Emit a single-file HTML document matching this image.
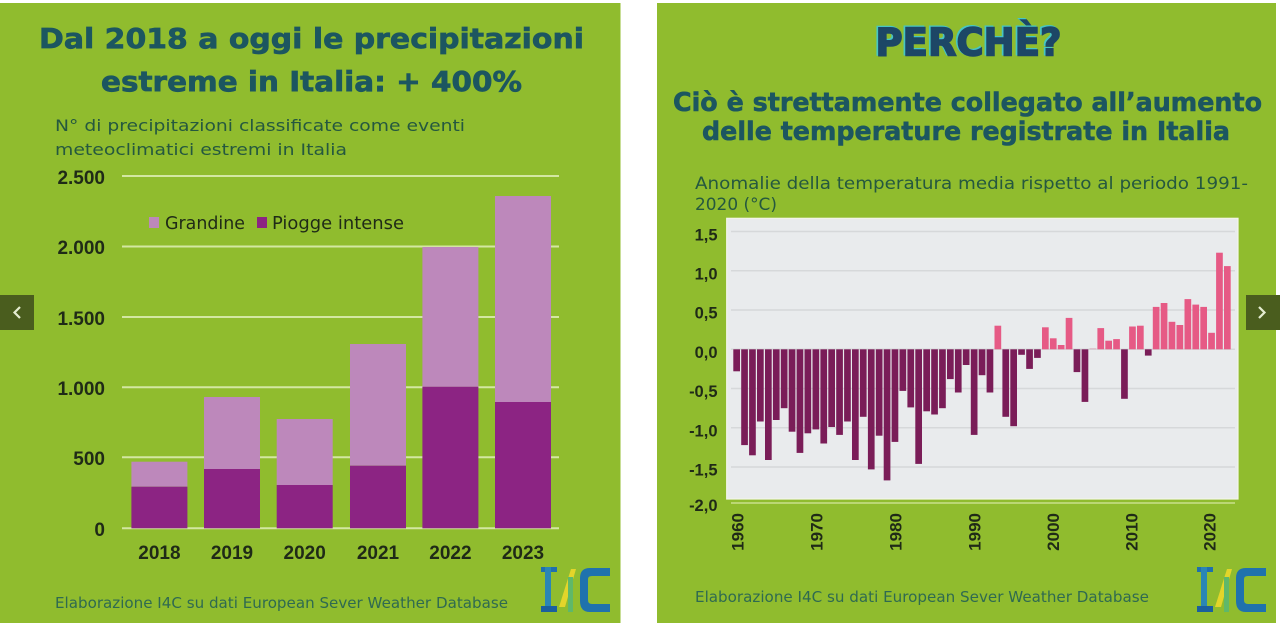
<!DOCTYPE html>
<html>
<head>
<meta charset="utf-8">
<style>
  html,body{margin:0;padding:0;background:#ffffff;}
  body{width:1280px;height:633px;overflow:hidden;}
  svg{display:block;}
</style>
</head>
<body>
<svg width="1280" height="633" viewBox="0 0 1280 633" xmlns="http://www.w3.org/2000/svg">
  <rect x="0" y="0" width="1280" height="633" fill="#ffffff"/>

  <!-- ================= LEFT PANEL ================= -->
  <rect x="0" y="3" width="620.5" height="620" fill="#90bc2e"/>

  <g font-family="'DejaVu Sans','Liberation Sans',sans-serif" fill="#1c5660" stroke="#1c5660" stroke-width="0.7" font-weight="bold">
    <text x="39" y="48" font-size="28" textLength="545" lengthAdjust="spacingAndGlyphs">Dal 2018 a oggi le precipitazioni</text>
    <text x="101" y="91" font-size="28" textLength="421" lengthAdjust="spacingAndGlyphs">estreme in Italia: + 400%</text>
  </g>
  <g font-family="'DejaVu Sans','Liberation Sans',sans-serif" fill="#25583f" font-size="16">
    <text x="55" y="131" textLength="410" lengthAdjust="spacingAndGlyphs">N° di precipitazioni classificate come eventi</text>
    <text x="55" y="155" textLength="292" lengthAdjust="spacingAndGlyphs">meteoclimatici estremi in Italia</text>
  </g>

  <!-- gridlines -->
  <g stroke="#d3e7a2" stroke-width="2">
    <line x1="122" y1="176" x2="559" y2="176"/>
    <line x1="122" y1="246.5" x2="559" y2="246.5"/>
    <line x1="122" y1="317" x2="559" y2="317"/>
    <line x1="122" y1="387.3" x2="559" y2="387.3"/>
    <line x1="122" y1="457.3" x2="559" y2="457.3"/>
    <line x1="122" y1="528.3" x2="559" y2="528.3"/>
  </g>

  <!-- y labels -->
  <g font-family="'Liberation Sans',sans-serif" font-weight="bold" font-size="19" fill="#1f2a17" text-anchor="end">
    <text x="105" y="184">2.500</text>
    <text x="105" y="254">2.000</text>
    <text x="105" y="325">1.500</text>
    <text x="105" y="395">1.000</text>
    <text x="105" y="465">500</text>
    <text x="105" y="536">0</text>
  </g>

  <!-- stacked bars -->
  <g>
    <rect x="131.4" y="461.7" width="56" height="25" fill="#bd88bb"/>
    <rect x="131.4" y="486.7" width="56" height="41.6" fill="#8c2483"/>
    <rect x="204" y="397" width="56" height="72" fill="#bd88bb"/>
    <rect x="204" y="469" width="56" height="59.3" fill="#8c2483"/>
    <rect x="276.7" y="419" width="56" height="66" fill="#bd88bb"/>
    <rect x="276.7" y="485" width="56" height="43.3" fill="#8c2483"/>
    <rect x="350" y="344" width="56" height="121.7" fill="#bd88bb"/>
    <rect x="350" y="465.7" width="56" height="62.6" fill="#8c2483"/>
    <rect x="422.4" y="247" width="56" height="139.7" fill="#bd88bb"/>
    <rect x="422.4" y="386.7" width="56" height="141.6" fill="#8c2483"/>
    <rect x="495" y="196" width="56" height="206" fill="#bd88bb"/>
    <rect x="495" y="402" width="56" height="126.3" fill="#8c2483"/>
  </g>

  <!-- x labels -->
  <g font-family="'Liberation Sans',sans-serif" font-weight="bold" font-size="19" fill="#1f2a17" text-anchor="middle">
    <text x="159.4" y="559">2018</text>
    <text x="232" y="559">2019</text>
    <text x="304.7" y="559">2020</text>
    <text x="378" y="559">2021</text>
    <text x="450.4" y="559">2022</text>
    <text x="523" y="559">2023</text>
  </g>

  <!-- legend -->
  <rect x="149" y="217" width="10" height="11" fill="#bd88bb"/>
  <text x="165" y="229" font-family="'DejaVu Sans','Liberation Sans',sans-serif" font-size="18" fill="#1f2a17" textLength="80" lengthAdjust="spacingAndGlyphs">Grandine</text>
  <rect x="257" y="217" width="10" height="11" fill="#8c2483"/>
  <text x="272" y="229" font-family="'DejaVu Sans','Liberation Sans',sans-serif" font-size="18" fill="#1f2a17" textLength="132" lengthAdjust="spacingAndGlyphs">Piogge intense</text>

  <!-- footer -->
  <text x="55" y="608" font-family="'DejaVu Sans','Liberation Sans',sans-serif" font-size="15" fill="#2f6a50" textLength="453" lengthAdjust="spacingAndGlyphs">Elaborazione I4C su dati European Sever Weather Database</text>

  <!-- logo left -->
  <g transform="translate(540,567)">
    <rect x="1" y="0" width="16" height="5" fill="#1f6fae"/>
    <rect x="5" y="0" width="6" height="45" fill="#2a86b5"/>
    <rect x="1" y="39" width="16" height="6" fill="#1a5f9e"/>
    <polygon points="19,40 31,2 36,2 25,40" fill="#e3d52a"/>
    <rect x="28" y="10" width="5" height="35" fill="#5fb86a"/>
    <path d="M70,1 L50,1 Q40,1 40,11 L40,34 Q40,45 50,45 L70,45 L70,37 L52,37 Q48,37 48,33 L48,12 Q48,9 52,9 L70,9 Z" fill="#1f72ad"/>
  </g>

  <!-- left nav -->
  <rect x="0" y="295" width="34" height="35" fill="#4a5d1e"/>
  <polyline points="20,307 14.5,312.5 20,318" fill="none" stroke="#e4ecd0" stroke-width="2.2"/>

  <!-- ================= RIGHT PANEL ================= -->
  <rect x="657" y="3" width="619" height="620" fill="#90bc2e"/>

  <g font-family="'DejaVu Sans','Liberation Sans',sans-serif" font-weight="bold" font-size="38">
    <text x="874" y="54.5" fill="#46c6c4" stroke="#46c6c4" stroke-width="2" textLength="186" lengthAdjust="spacingAndGlyphs">PERCHÈ?</text>
    <text x="875.5" y="55.7" fill="#1d4766" stroke="#1d4766" stroke-width="1.6" textLength="186" lengthAdjust="spacingAndGlyphs">PERCHÈ?</text>
  </g>

  <g font-family="'DejaVu Sans','Liberation Sans',sans-serif" fill="#1c5660" stroke="#1c5660" stroke-width="0.6" font-weight="bold" font-size="26">
    <text x="673" y="111" textLength="589" lengthAdjust="spacingAndGlyphs">Ciò è strettamente collegato all’aumento</text>
    <text x="702" y="140" textLength="528" lengthAdjust="spacingAndGlyphs">delle temperature registrate in Italia</text>
  </g>
  <g font-family="'DejaVu Sans','Liberation Sans',sans-serif" fill="#25583f" font-size="16.5">
    <text x="695" y="189" textLength="553" lengthAdjust="spacingAndGlyphs">Anomalie della temperatura media rispetto al periodo 1991-</text>
    <text x="695" y="210" textLength="82" lengthAdjust="spacingAndGlyphs">2020 (°C)</text>
  </g>

  <!-- plot box -->
  <rect x="726.7" y="218.3" width="511.3" height="280.7" fill="#e9ebed" stroke="#f3f6ea" stroke-width="1.2"/>
  <g stroke="#d6d8da" stroke-width="1.5">
    <line x1="731" y1="231.5" x2="1235" y2="231.5"/>
    <line x1="731" y1="270.8" x2="1235" y2="270.8"/>
    <line x1="731" y1="310" x2="1235" y2="310"/>
    <line x1="731" y1="349.3" x2="1235" y2="349.3"/>
    <line x1="731" y1="388.5" x2="1235" y2="388.5"/>
    <line x1="731" y1="427.8" x2="1235" y2="427.8"/>
    <line x1="731" y1="467" x2="1235" y2="467"/>
  </g>
  <line x1="731" y1="503" x2="1235" y2="503" stroke="#c9e08c" stroke-width="1.5"/>

  <!-- y labels right -->
  <g font-family="'Liberation Sans',sans-serif" font-weight="bold" font-size="16.5" fill="#1f2a17" text-anchor="end">
    <text x="717.5" y="240.5">1,5</text>
    <text x="717.5" y="279.5">1,0</text>
    <text x="717.5" y="318.5">0,5</text>
    <text x="717.5" y="358">0,0</text>
    <text x="717.5" y="397">-0,5</text>
    <text x="717.5" y="436.5">-1,0</text>
    <text x="717.5" y="475.5">-1,5</text>
    <text x="717.5" y="511">-2,0</text>
  </g>

  <!-- anomaly bars -->
  <g fill="#7a1d58">
    <rect x="733.3" y="349.3" width="6.7" height="22.0"/>
    <rect x="741.2" y="349.3" width="6.7" height="95.8"/>
    <rect x="749.1" y="349.3" width="6.7" height="106.0"/>
    <rect x="757.0" y="349.3" width="6.7" height="72.2"/>
    <rect x="765.0" y="349.3" width="6.7" height="110.7"/>
    <rect x="772.9" y="349.3" width="6.7" height="70.7"/>
    <rect x="780.8" y="349.3" width="6.7" height="58.9"/>
    <rect x="788.7" y="349.3" width="6.7" height="82.4"/>
    <rect x="796.6" y="349.3" width="6.7" height="103.6"/>
    <rect x="804.5" y="349.3" width="6.7" height="84.0"/>
    <rect x="812.5" y="349.3" width="6.7" height="80.1"/>
    <rect x="820.4" y="349.3" width="6.7" height="94.2"/>
    <rect x="828.3" y="349.3" width="6.7" height="77.7"/>
    <rect x="836.2" y="349.3" width="6.7" height="85.6"/>
    <rect x="844.1" y="349.3" width="6.7" height="72.2"/>
    <rect x="852.0" y="349.3" width="6.7" height="110.7"/>
    <rect x="859.9" y="349.3" width="6.7" height="67.5"/>
    <rect x="867.9" y="349.3" width="6.7" height="120.1"/>
    <rect x="875.8" y="349.3" width="6.7" height="86.4"/>
    <rect x="883.7" y="349.3" width="6.7" height="131.1"/>
    <rect x="891.6" y="349.3" width="6.7" height="92.6"/>
    <rect x="899.5" y="349.3" width="6.7" height="41.6"/>
    <rect x="907.4" y="349.3" width="6.7" height="58.1"/>
    <rect x="915.3" y="349.3" width="6.7" height="114.6"/>
    <rect x="923.3" y="349.3" width="6.7" height="62.0"/>
    <rect x="931.2" y="349.3" width="6.7" height="65.2"/>
    <rect x="939.1" y="349.3" width="6.7" height="58.9"/>
    <rect x="947.0" y="349.3" width="6.7" height="29.8"/>
    <rect x="954.9" y="349.3" width="6.7" height="43.2"/>
    <rect x="962.8" y="349.3" width="6.7" height="15.7"/>
    <rect x="970.8" y="349.3" width="6.7" height="85.6"/>
    <rect x="978.7" y="349.3" width="6.7" height="25.9"/>
    <rect x="986.6" y="349.3" width="6.7" height="43.2"/>
    <rect x="1002.4" y="349.3" width="6.7" height="67.5"/>
    <rect x="1010.3" y="349.3" width="6.7" height="76.9"/>
    <rect x="1018.2" y="349.3" width="6.7" height="5.5"/>
    <rect x="1026.2" y="349.3" width="6.7" height="19.6"/>
    <rect x="1034.1" y="349.3" width="6.7" height="8.6"/>
    <rect x="1073.6" y="349.3" width="6.7" height="22.8"/>
    <rect x="1081.6" y="349.3" width="6.7" height="52.6"/>
    <rect x="1121.1" y="349.3" width="6.7" height="49.5"/>
    <rect x="1144.9" y="349.3" width="6.7" height="6.3"/>
  </g>
  <g fill="#e65a85">
    <rect x="994.5" y="325.7" width="6.7" height="23.6"/>
    <rect x="1042.0" y="327.3" width="6.7" height="22.0"/>
    <rect x="1049.9" y="338.3" width="6.7" height="11.0"/>
    <rect x="1057.8" y="345.0" width="6.7" height="4.3"/>
    <rect x="1065.7" y="317.9" width="6.7" height="31.4"/>
    <rect x="1089.5" y="348.3" width="6.7" height="1.0" fill="#d8b0bf"/>
    <rect x="1097.4" y="328.1" width="6.7" height="21.2"/>
    <rect x="1105.3" y="340.7" width="6.7" height="8.6"/>
    <rect x="1113.2" y="339.1" width="6.7" height="10.2"/>
    <rect x="1129.1" y="326.5" width="6.7" height="22.8"/>
    <rect x="1137.0" y="325.7" width="6.7" height="23.6"/>
    <rect x="1152.8" y="306.9" width="6.7" height="42.4"/>
    <rect x="1160.7" y="303.0" width="6.7" height="46.3"/>
    <rect x="1168.6" y="321.8" width="6.7" height="27.5"/>
    <rect x="1176.5" y="325.0" width="6.7" height="24.3"/>
    <rect x="1184.5" y="299.1" width="6.7" height="50.2"/>
    <rect x="1192.4" y="304.6" width="6.7" height="44.7"/>
    <rect x="1200.3" y="306.9" width="6.7" height="42.4"/>
    <rect x="1208.2" y="332.8" width="6.7" height="16.5"/>
    <rect x="1216.1" y="252.7" width="6.7" height="96.6"/>
    <rect x="1224.0" y="266.1" width="6.7" height="83.2"/>
  </g>

  <!-- rotated x labels -->
  <g font-family="'Liberation Sans',sans-serif" font-weight="bold" font-size="17" fill="#1f2a17" text-anchor="end" dominant-baseline="central">
    <text transform="translate(738,513) rotate(-90)">1960</text>
    <text transform="translate(817,513) rotate(-90)">1970</text>
    <text transform="translate(896,513) rotate(-90)">1980</text>
    <text transform="translate(975,513) rotate(-90)">1990</text>
    <text transform="translate(1053.5,513) rotate(-90)">2000</text>
    <text transform="translate(1132,513) rotate(-90)">2010</text>
    <text transform="translate(1210,513) rotate(-90)">2020</text>
  </g>

  <!-- footer right -->
  <text x="695" y="602" font-family="'DejaVu Sans','Liberation Sans',sans-serif" font-size="15" fill="#2f6a50" textLength="454" lengthAdjust="spacingAndGlyphs">Elaborazione I4C su dati European Sever Weather Database</text>

  <!-- logo right -->
  <g transform="translate(1196,567)">
    <rect x="1" y="0" width="16" height="5" fill="#1f6fae"/>
    <rect x="5" y="0" width="6" height="45" fill="#2a86b5"/>
    <rect x="1" y="39" width="16" height="6" fill="#1a5f9e"/>
    <polygon points="19,40 31,2 36,2 25,40" fill="#e3d52a"/>
    <rect x="28" y="10" width="5" height="35" fill="#5fb86a"/>
    <path d="M70,1 L50,1 Q40,1 40,11 L40,34 Q40,45 50,45 L70,45 L70,37 L52,37 Q48,37 48,33 L48,12 Q48,9 52,9 L70,9 Z" fill="#1f72ad"/>
  </g>

  <!-- right nav -->
  <rect x="1246" y="295" width="34" height="35" fill="#4a5d1e"/>
  <polyline points="1259,307 1264.5,312.5 1259,318" fill="none" stroke="#e4ecd0" stroke-width="2.2"/>
</svg>
</body>
</html>
